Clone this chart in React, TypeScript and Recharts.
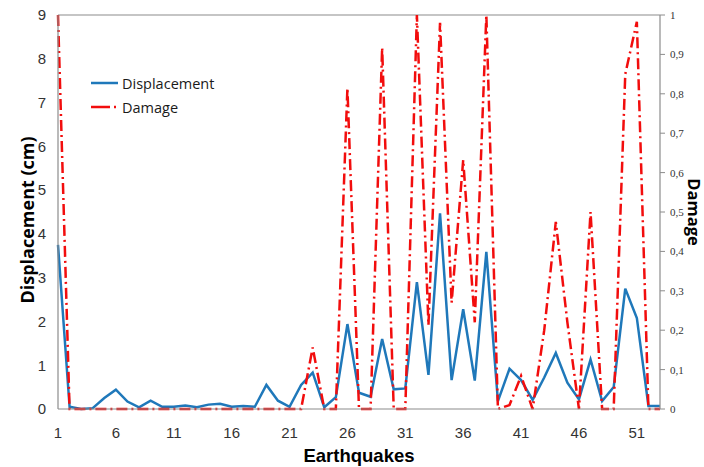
import React from "react";
import { LineChart, Line, XAxis, YAxis, Legend, ReferenceLine } from "recharts";

const earthquakes = [1, 2, 3, 4, 5, 6, 7, 8, 9, 10, 11, 12, 13, 14, 15, 16, 17, 18, 19, 20, 21, 22, 23, 24, 25, 26, 27, 28, 29, 30, 31, 32, 33, 34, 35, 36, 37, 38, 39, 40, 41, 42, 43, 44, 45, 46, 47, 48, 49, 50, 51, 52, 53];

const displacement = [3.75, 0.05, 0.0, 0.02, 0.25, 0.44, 0.17, 0.04, 0.19, 0.05, 0.05, 0.08, 0.04, 0.1, 0.12, 0.05, 0.07, 0.05, 0.55, 0.19, 0.05, 0.55, 0.83, 0.04, 0.27, 1.94, 0.37, 0.28, 1.6, 0.45, 0.47, 2.9, 0.78, 4.47, 0.66, 2.28, 0.65, 3.59, 0.18, 0.92, 0.66, 0.21, 0.72, 1.28, 0.6, 0.22, 1.13, 0.18, 0.5, 2.75, 2.08, 0.07, 0.07];

const damage = [1.0, 0.0, 0.0, 0.0, 0.0, 0.0, 0.0, 0.0, 0.0, 0.0, 0.0, 0.0, 0.0, 0.0, 0.0, 0.0, 0.0, 0.0, 0.0, 0.0, 0.0, 0.0, 0.156, 0.0, 0.0, 0.815, 0.0, 0.0, 0.917, 0.0, 0.0, 1.0, 0.213, 0.98, 0.27, 0.632, 0.22, 1.0, 0.0, 0.01, 0.084, 0.0, 0.2, 0.475, 0.22, 0.0, 0.5, 0.0, 0.0, 0.85, 0.983, 0.0, 0.0];

const xTicks = [1, 6, 11, 16, 21, 26, 31, 36, 41, 46, 51];
const leftTicks = [0, 1, 2, 3, 4, 5, 6, 7, 8, 9];
const rightTicks = [0, 0.1, 0.2, 0.3, 0.4, 0.5, 0.6, 0.7, 0.8, 0.9, 1];
const seriesOrder = ["Displacement", "Damage"];

const data = earthquakes.map((eq, i) => ({
  eq,
  Displacement: displacement[i],
  Damage: damage[i],
}));

const BLUE = "#1f78ba";
const RED = "#f20d0d";
const AXIS = "#8c8c8c";

const legendDash: Record<string, string | undefined> = {
  Displacement: undefined,
  Damage: "19 4 2 20",
};

const renderLegend = (props: any) => {
  const payload = [...(props.payload || [])].sort(
    (a: any, b: any) => seriesOrder.indexOf(a.value) - seriesOrder.indexOf(b.value)
  );
  return (
    <div style={{ fontFamily: "'Open Sans', sans-serif", fontSize: 14.5, color: "#1a1a1a" }}>
      {payload.map((e: any) => (
        <div key={e.value} style={{ display: "flex", alignItems: "center", height: 24 }}>
          <svg width={32} height={10} style={{ display: "block" }}>
            <line
              x1={1}
              y1={5}
              x2={28}
              y2={5}
              stroke={e.color}
              strokeWidth={2.5}
              strokeDasharray={legendDash[e.value]}
            />
          </svg>
          <span>{e.value}</span>
        </div>
      ))}
    </div>
  );
};

const LeftLabel = (props: any) => {
  const vb = props.viewBox || { x: 0, y: 0, width: 0, height: 0 };
  const cx = vb.x + 27;
  const cy = vb.y + vb.height / 2 + 8;
  return (
    <text
      x={cx}
      y={cy}
      transform={`rotate(-90, ${cx}, ${cy})`}
      textAnchor="middle"
      dominantBaseline="central"
      style={{ fontFamily: "'Open Sans', sans-serif", fontWeight: 700, fontSize: 18, fill: "#000" }}
    >
      Displacement (cm)
    </text>
  );
};

const RightLabel = (props: any) => {
  const vb = props.viewBox || { x: 0, y: 0, width: 0, height: 0 };
  const cx = vb.x + 34;
  const cy = vb.y + vb.height / 2;
  return (
    <text
      x={cx}
      y={cy}
      transform={`rotate(90, ${cx}, ${cy})`}
      textAnchor="middle"
      dominantBaseline="central"
      style={{ fontFamily: "'Open Sans', sans-serif", fontWeight: 700, fontSize: 16.5, fill: "#000" }}
    >
      Damage
    </text>
  );
};

const BottomLabel = (props: any) => {
  const vb = props.viewBox || { x: 0, y: 0, width: 0, height: 0 };
  const cx = vb.x + vb.width / 2;
  const cy = vb.y + 46;
  return (
    <text
      x={cx}
      y={cy}
      textAnchor="middle"
      dominantBaseline="central"
      style={{ fontFamily: "'Liberation Sans', Arial, sans-serif", fontWeight: 700, fontSize: 18.5, fill: "#000" }}
    >
      Earthquakes
    </text>
  );
};

const fmtRight = (v: number) => (v === 0 ? "0" : v === 1 ? "1" : v.toFixed(1).replace(".", ","));

export default function App() {
  return (
    <div style={{ position: "absolute", left: 0, top: 0, width: 704, height: 467, background: "#fff" }}>
      <LineChart width={704} height={467} data={data} margin={{ top: 15, right: 0, left: 0, bottom: 0 }}>
        <XAxis
          dataKey="eq"
          type="number"
          domain={[1, 53]}
          ticks={xTicks}
          interval={0}
          height={58}
          tickLine={false}
          tickMargin={12}
          axisLine={{ stroke: AXIS, strokeWidth: 1.2 }}
          tick={{ fill: "#333", fontSize: 15, fontFamily: "'Liberation Sans', Arial, sans-serif" }}
          label={<BottomLabel />}
        />
        <YAxis
          yAxisId="left"
          domain={[0, 9]}
          ticks={leftTicks}
          interval={0}
          width={58}
          tickLine={false}
          tickMargin={6}
          axisLine={{ stroke: AXIS, strokeWidth: 1.2 }}
          tick={{ fill: "#333", fontSize: 15, fontFamily: "'Liberation Sans', Arial, sans-serif" }}
          label={<LeftLabel />}
        />
        <YAxis
          yAxisId="right"
          orientation="right"
          domain={[0, 1]}
          ticks={rightTicks}
          interval={0}
          width={44}
          tickSize={5}
          tickMargin={5}
          tickFormatter={fmtRight}
          tickLine={{ stroke: AXIS }}
          axisLine={{ stroke: AXIS, strokeWidth: 1.2 }}
          tick={{ fill: "#333", fontSize: 11, fontFamily: "'Liberation Serif', 'Times New Roman', serif" }}
          label={<RightLabel />}
        />
        <ReferenceLine yAxisId="left" y={9} stroke={AXIS} strokeWidth={1.2} />
        <Legend
          content={renderLegend}
          layout="vertical"
          verticalAlign="middle"
          align="center"
          wrapperStyle={{ position: "absolute", left: 90, top: 71, width: 160 }}
        />
        <Line
          yAxisId="left"
          type="linear"
          dataKey="Displacement"
          stroke={BLUE}
          strokeWidth={2.5}
          dot={false}
          activeDot={false}
          isAnimationActive={false}
        />
        <Line
          yAxisId="right"
          type="linear"
          dataKey="Damage"
          stroke={RED}
          strokeWidth={2.5}
          strokeDasharray="11 4 2 4"
          dot={false}
          activeDot={false}
          isAnimationActive={false}
        />
      </LineChart>
    </div>
  );
}
